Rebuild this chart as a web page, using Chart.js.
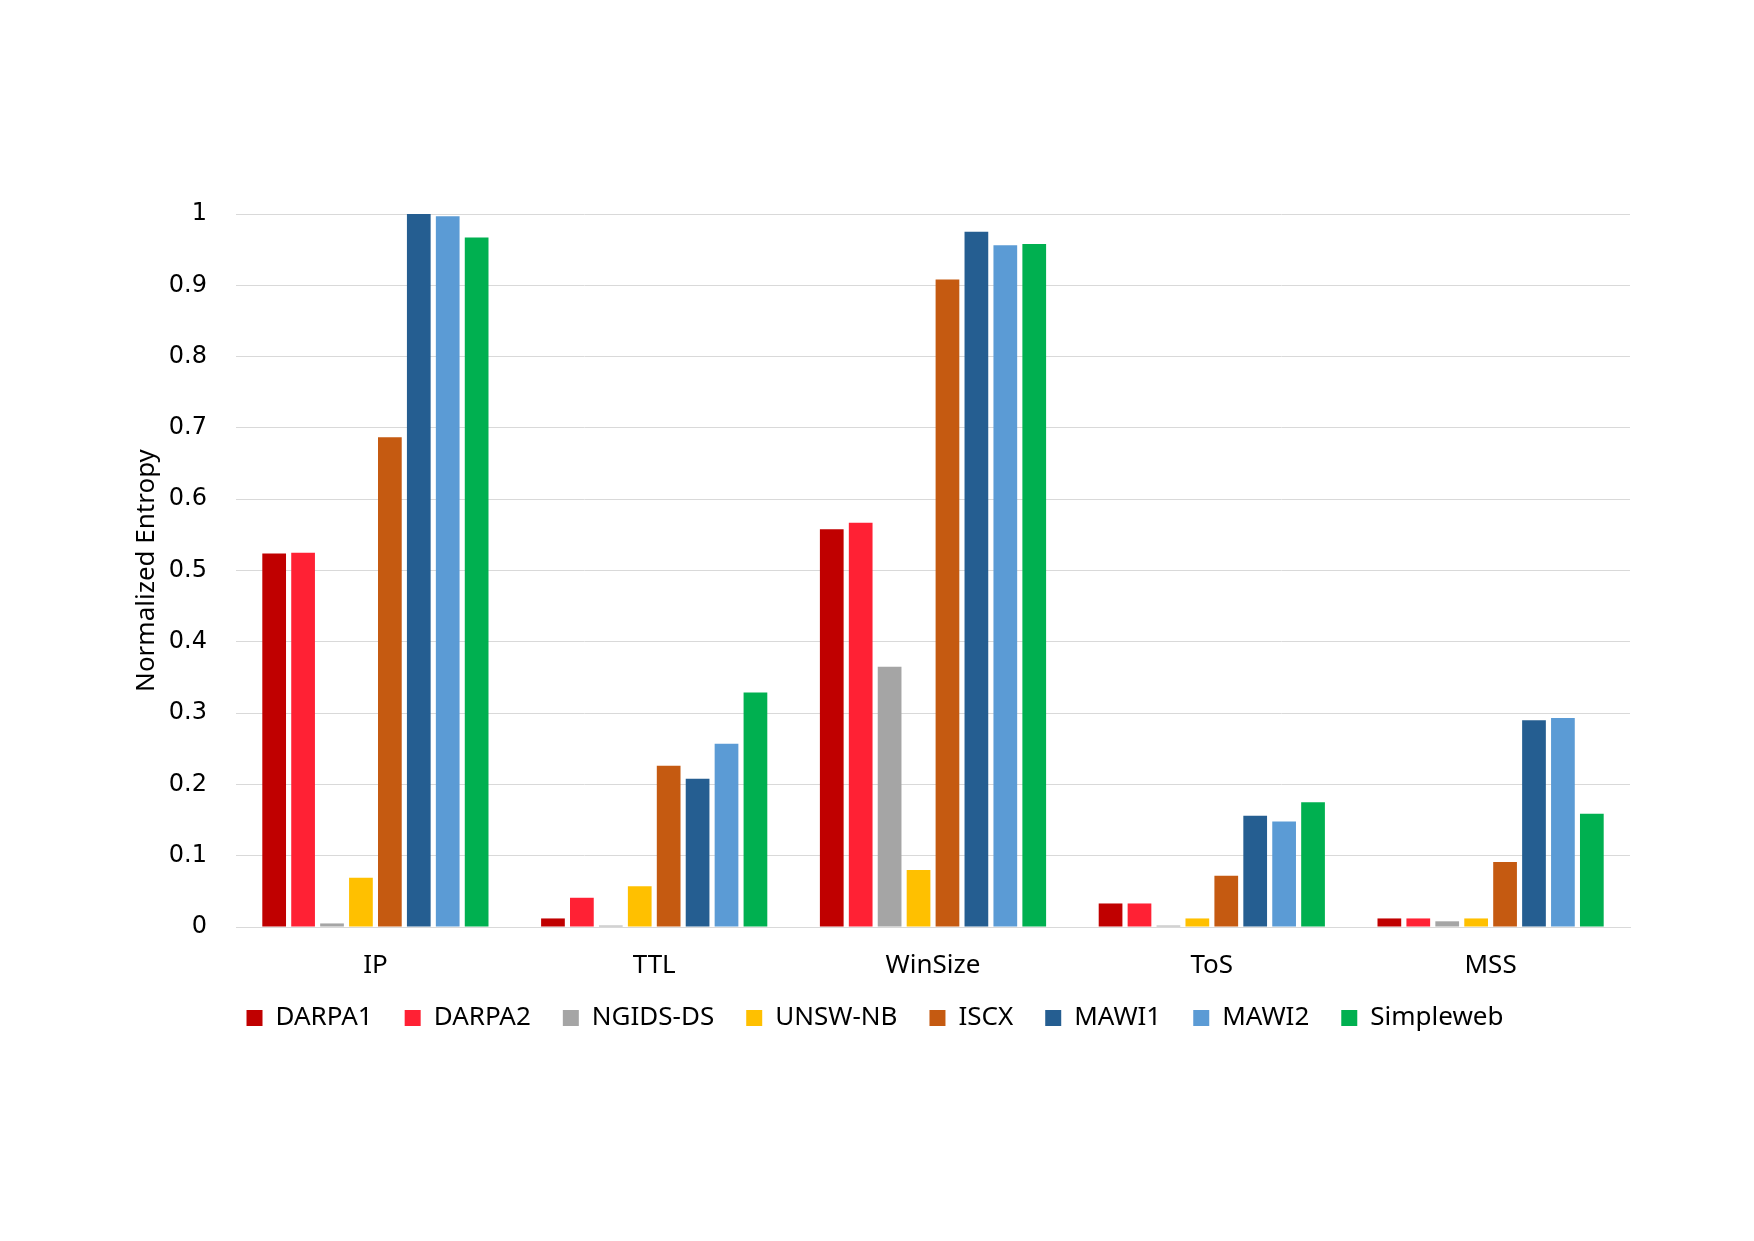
<!DOCTYPE html>
<html>
<head>
<meta charset="utf-8">
<script src="https://cdn.jsdelivr.net/npm/chart.js@4.4.1/dist/chart.umd.min.js"></script>
<style>
  html, body { margin: 0; padding: 0; background: #fff; }
  #wrap { width: 1754px; height: 1241px; }
</style>
</head>
<body>
<div id="wrap"><canvas id="entropyChart"></canvas></div>
<script>
// features on the x axis
const features = ["IP", "TTL", "WinSize", "ToS", "MSS"];

// normalized entropy per dataset, one value per feature
const darpa1    = [0.524, 0.012, 0.558, 0.033, 0.012];
const darpa2    = [0.525, 0.041, 0.567, 0.033, 0.012];
const ngids     = [0.005, 0.002, 0.365, 0.002, 0.008];
const unswNb    = [0.069, 0.057, 0.080, 0.012, 0.012];
const iscx      = [0.687, 0.226, 0.908, 0.072, 0.091];
const mawi1     = [1.000, 0.208, 0.975, 0.156, 0.290];
const mawi2     = [0.997, 0.257, 0.956, 0.148, 0.293];
const simpleweb = [0.967, 0.329, 0.958, 0.175, 0.159];

const yTicks = [0, 0.1, 0.2, 0.3, 0.4, 0.5, 0.6, 0.7, 0.8, 0.9, 1];

const series = [
  { label: "DARPA1",    data: darpa1,    color: "#C00000" },
  { label: "DARPA2",    data: darpa2,    color: "#FF2134" },
  { label: "NGIDS-DS",  data: ngids,     color: "#A5A5A5" },
  { label: "UNSW-NB",   data: unswNb,    color: "#FFC000" },
  { label: "ISCX",      data: iscx,      color: "#C55A11" },
  { label: "MAWI1",     data: mawi1,     color: "#255E91" },
  { label: "MAWI2",     data: mawi2,     color: "#5B9BD5" },
  { label: "Simpleweb", data: simpleweb, color: "#00B050" }
];

const labelFont = { family: "'Noto Sans', sans-serif", size: 26 };

new Chart(document.getElementById("entropyChart"), {
  type: "bar",
  data: {
    labels: features,
    datasets: series.map(s => ({
      label: s.label,
      data: s.data,
      backgroundColor: s.color,
      borderWidth: 0,
      barPercentage: 0.82,
      categoryPercentage: 0.83
    }))
  },
  options: {
    responsive: true,
    maintainAspectRatio: false,
    animation: false,
    layout: { padding: { left: 120, right: 124, top: 214, bottom: 200 } },
    plugins: {
      tooltip: { enabled: false },
      legend: {
        position: "bottom",
        labels: {
          color: "#000",
          font: labelFont,
          boxWidth: 16,
          boxHeight: 16,
          padding: 32
        }
      }
    },
    scales: {
      x: {
        afterFit: scale => { scale.height = 46; },
        grid: { display: false, drawTicks: false },
        border: { display: true, color: "#D9D9D9", width: 1 },
        ticks: { color: "#000", font: labelFont, padding: 23 }
      },
      y: {
        min: 0,
        max: 1,
        afterFit: scale => { scale.width = 116; },
        afterBuildTicks: scale => { scale.ticks = yTicks.map(v => ({ value: v })); },
        grid: { color: "#D9D9D9", lineWidth: 1, drawTicks: false },
        border: { display: false },
        ticks: {
          color: "#000",
          font: { family: "'DejaVu Sans', sans-serif", size: 24 },
          padding: 29,
          callback: v => String(Math.round(v * 10) / 10)
        },
        title: {
          display: true,
          text: "Normalized Entropy",
          color: "#000",
          font: labelFont,
          padding: { top: 11, bottom: 0 }
        }
      }
    }
  }
});
</script>
</body>
</html>
